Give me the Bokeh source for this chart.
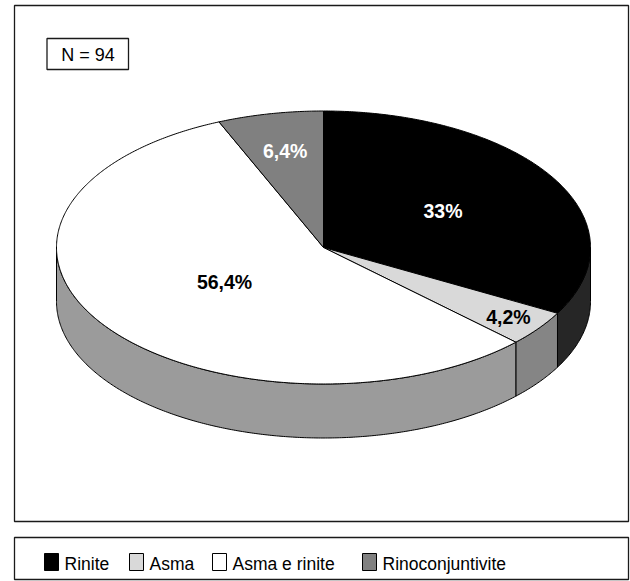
import numpy as np
from bokeh.plotting import figure
from bokeh.models import Range1d
from bokeh.core.properties import value
from bokeh.embed import file_html
from bokeh.resources import INLINE

# --- data ---
categories = ["Rinite", "Asma", "Asma e rinite", "Rinoconjuntivite"]
percent = [33.0, 4.2, 56.4, 6.4]
label_text = ["33%", "4,2%", "56,4%", "6,4%"]
sample_note = "N = 94"

# --- styles ---
top_colors = ["#000000", "#d9d9d9", "#ffffff", "#808080"]
side_colors = ["#262626", "#858585", "#9b9b9b", "#5f5f5f"]
label_colors = ["#ffffff", "#000000", "#000000", "#ffffff"]
label_radius = [0.52, 0.86, 0.45, 0.72]

W, H = 630, 581
cx, cy, rx, ry, depth = 323.0, 247.0, 267.0, 136.5, 54.0

p = figure(width=W, height=H, x_range=Range1d(0, W), y_range=Range1d(H, 0),
           output_backend="svg", toolbar_location=None, min_border=0)
p.axis.visible = False
p.grid.visible = False
p.outline_line_color = None
p.background_fill_color = "white"
p.border_fill_color = "white"


def pt(theta_deg, dy=0.0):
    t = np.radians(theta_deg)
    return cx + rx * np.sin(t), cy - ry * np.cos(t) + dy


# slice angle spans, clockwise from 12 o'clock
edges = np.concatenate([[0.0], np.cumsum(percent)]) / sum(percent) * 360.0

# side walls (front half only: 90..270 degrees)
sx, sy, sc = [], [], []
for i in range(len(percent)):
    a0, a1 = max(edges[i], 90.0), min(edges[i + 1], 270.0)
    if a1 <= a0:
        continue
    th = np.linspace(a0, a1, max(int((a1 - a0) * 2), 2))
    tx, ty = pt(th)
    bx, by = pt(th[::-1], depth)
    sx.append(list(tx) + list(bx))
    sy.append(list(ty) + list(by))
    sc.append(side_colors[i])
p.patches(sx, sy, fill_color=sc, line_color="black", line_width=1)

# top face wedges
wx, wy = [], []
for i in range(len(percent)):
    th = np.linspace(edges[i], edges[i + 1], max(int((edges[i + 1] - edges[i]) * 2), 2))
    ax, ay = pt(th)
    wx.append([cx] + list(ax))
    wy.append([cy] + list(ay))
p.patches(wx, wy, fill_color=top_colors, line_color="black", line_width=1)

# value labels on the top face
mids = (edges[:-1] + edges[1:]) / 2.0
lx = [cx + rx * np.sin(np.radians(m)) * f for m, f in zip(mids, label_radius)]
ly = [cy - ry * np.cos(np.radians(m)) * f for m, f in zip(mids, label_radius)]
p.text(x=lx, y=ly, text=label_text, text_color=label_colors,
       text_font=value("Liberation Sans"), text_font_style="bold",
       text_font_size="19.5px", text_align="center", text_baseline="middle")

# chart frame and sample-size box
p.quad(left=[14, 14, 46.5], right=[628, 628, 128], top=[5, 537, 38], bottom=[521, 579, 69],
       fill_color=None, line_color="#1a1a1a", line_width=1.3)
p.text(x=[87.5], y=[54], text=[sample_note], text_font=value("Liberation Sans"),
       text_font_size="18px", text_align="center", text_baseline="middle", text_color="black")

# legend row
sq_left = [44, 129, 212, 362]
p.quad(left=sq_left, right=[v + 14 for v in sq_left], top=[553] * 4, bottom=[570] * 4,
       fill_color=top_colors, line_color="black", line_width=1)
p.text(x=[v + 20 for v in sq_left], y=[563.5] * 4, text=categories,
       text_font=value("Liberation Sans"), text_font_size="17.5px",
       text_align="left", text_baseline="middle", text_color="black")

open("out.html", "w").write(file_html(p, INLINE))
